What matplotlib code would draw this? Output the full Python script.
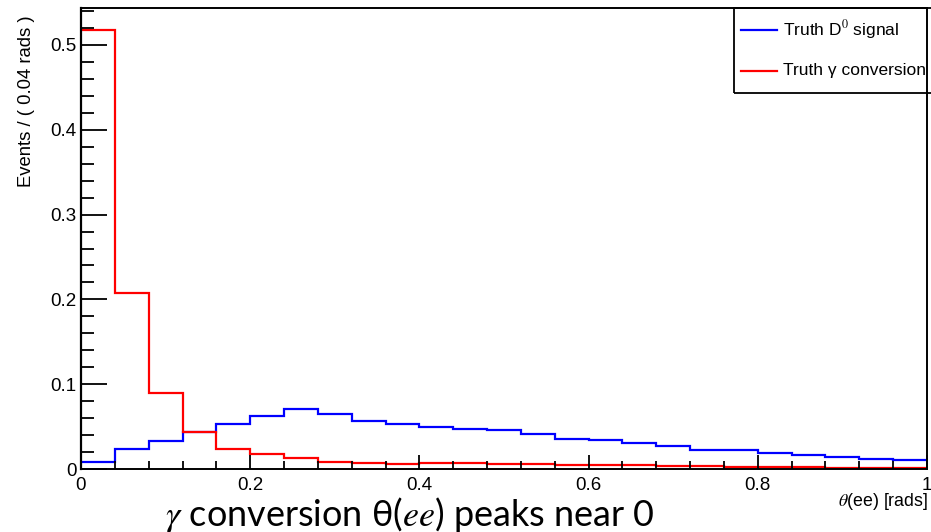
import numpy as np
import matplotlib
matplotlib.use("Agg")
import matplotlib.pyplot as plt
from matplotlib.lines import Line2D
from matplotlib.patches import Rectangle
from matplotlib.ticker import MultipleLocator

bin_width = 0.04
signal_d0 = [0.0086, 0.024, 0.0326, 0.0436, 0.0527, 0.0629, 0.0704, 0.0649,
             0.0566, 0.0531, 0.0499, 0.0475, 0.046, 0.0413, 0.0358, 0.0342,
             0.0307, 0.0275, 0.022, 0.022, 0.0185, 0.0169, 0.0145, 0.0114, 0.0102]
gamma_conv = [0.5177, 0.208, 0.090, 0.0436, 0.0234, 0.0177, 0.013, 0.0086,
              0.0067, 0.0059, 0.0065, 0.0065, 0.006, 0.0055, 0.005, 0.0045,
              0.0042, 0.0035, 0.003, 0.0025, 0.002, 0.0018, 0.0015, 0.0012, 0.001]
legend_labels = ["Truth D$^{0}$ signal", "Truth \u03b3 conversion"]
x_ticks = [0, 0.2, 0.4, 0.6, 0.8, 1]
x_tick_labels = ["0", "0.2", "0.4", "0.6", "0.8", "1"]
y_ticks = [0, 0.1, 0.2, 0.3, 0.4, 0.5]
y_tick_labels = ["0", "0.1", "0.2", "0.3", "0.4", "0.5"]

plt.rcParams['font.family'] = ['Liberation Sans', 'DejaVu Sans']
plt.rcParams['mathtext.fontset'] = 'stix'

W, H = 931, 532
fig = plt.figure(figsize=(W / 100, H / 100), dpi=100)
ax = fig.add_axes([81 / W, 1 - 469 / H, (927 - 81) / W, (469 - 8) / H])

edges = np.arange(len(signal_d0) + 1) * bin_width
ax.stairs(signal_d0, edges, color=(0, 0, 1), lw=1.6, baseline=None)
ax.stairs(gamma_conv, edges, color=(1, 0, 0), lw=1.6, baseline=None)

ax.set_xlim(0, 1)
ax.set_ylim(0, 0.5436)
ax.set_xticks(x_ticks)
ax.set_xticklabels(x_tick_labels)
ax.set_yticks(y_ticks)
ax.set_yticklabels(y_tick_labels)
ax.xaxis.set_minor_locator(MultipleLocator(0.04))
ax.yaxis.set_minor_locator(MultipleLocator(0.02))
ax.tick_params(axis='y', which='major', direction='in', length=18.5, width=1.3,
               labelsize=13.5, pad=3)
ax.tick_params(axis='y', which='minor', direction='in', length=9.6, width=1.3)
ax.tick_params(axis='x', which='major', direction='in', length=10.3, width=1.3,
               labelsize=13.5, pad=6)
ax.tick_params(axis='x', which='minor', direction='in', length=5.5, width=1.3)
for s in ax.spines.values():
    s.set_linewidth(1.4)
ax.spines['left'].set_linewidth(1.6)

fig.text(27 / W, 1 - 15 / H, "Events / ( 0.04 rads )", rotation=90,
         ha='center', va='top', fontsize=13.3)
fig.text(928 / W, 1 - 501 / H, r"$\theta$(ee) [rads]", ha='right', va='center',
         fontsize=12.8)

# legend box (ROOT style)
lx0, ly0, lx1, ly1 = 734, 8, 934, 93
fig.patches.append(Rectangle((lx0 / W, 1 - ly1 / H), (lx1 - lx0) / W, (ly1 - ly0) / H,
                             transform=fig.transFigure, fill=False, ec='black',
                             lw=1.3, zorder=5))
for yy, col, lab in [(30, (0, 0, 1), legend_labels[0]), (71, (1, 0, 0), legend_labels[1])]:
    fig.add_artist(Line2D([741 / W, 777 / W], [1 - yy / H, 1 - yy / H],
                          color=col, lw=1.6, transform=fig.transFigure))
    fig.text(783 / W, 1 - yy / H, lab, ha='left', va='center', fontsize=12.5)

fig.text(165 / W, 1 - 526 / H, r"$\gamma$ conversion θ($ee$) peaks near 0",
         ha='left', va='baseline', fontsize=25.9, family=['Lato', 'DejaVu Sans'])

fig.savefig("out.png", dpi=100)
